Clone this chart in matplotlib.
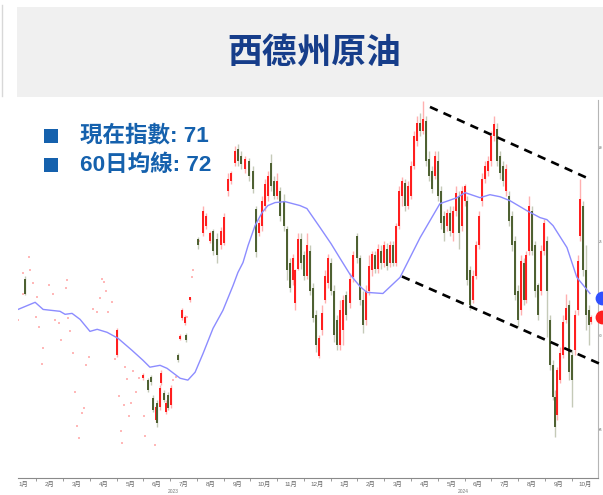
import numpy as np
import matplotlib.pyplot as plt
from matplotlib.patches import Rectangle
from matplotlib.lines import Line2D
from matplotlib.transforms import blended_transform_factory

plt.rcParams['font.family'] = ['Liberation Sans', 'Noto Sans CJK TC', 'DejaVu Sans']

# t = months since 2023-01 (0 = start of Jan 2023)
t = [0.57, 4.01, 4.98, 5.17, 5.28, 5.36, 5.47, 5.51, 5.62, 5.66,
     5.77, 5.84, 5.92, 6.03, 6.29, 6.36, 6.44, 6.55, 6.59, 6.74,
     7.04, 7.23, 7.34, 7.49, 7.60, 7.75, 7.90, 8.01, 8.16, 8.27,
     8.42, 8.53, 8.65, 8.80, 8.94, 9.09, 9.21, 9.32, 9.43, 9.54,
     9.65, 9.77, 9.88, 9.99, 10.10, 10.25, 10.36, 10.48, 10.59, 10.66,
     10.78, 10.89, 11.00, 11.11, 11.22, 11.34, 11.45, 11.56, 11.67, 11.79,
     11.90, 12.01, 12.12, 12.23, 12.35, 12.46, 12.57, 12.72, 12.83, 12.98,
     13.09, 13.20, 13.32, 13.43, 13.54, 13.65, 13.76, 13.88, 13.99, 14.10,
     14.22, 14.33, 14.44, 14.55, 14.66, 14.77, 14.89, 15.00, 15.11, 15.22,
     15.33, 15.45, 15.56, 15.67, 15.78, 15.90, 16.01, 16.12, 16.23, 16.34,
     16.46, 16.57, 16.68, 16.79, 16.90, 17.02, 17.09, 17.20, 17.32, 17.43,
     17.54, 17.65, 17.76, 17.88, 17.99, 18.10, 18.21, 18.33, 18.44, 18.55,
     18.66, 18.77, 18.89, 19.00, 19.11, 19.22, 19.30, 19.41, 19.52, 19.63,
     19.75, 19.86, 19.97, 20.08, 20.20, 20.31, 20.38, 20.46, 20.57, 20.68,
     20.79, 20.90, 21.02, 21.13, 21.24, 21.31, 21.42, 21.53, 21.65, 21.72]

opn = [73.03, 68.94, 67.71, 67.61, 67.77, 66.65, 65.48, 66.38, 66.17, 67.45,
       66.91, 65.90, 66.81, 66.28, 68.94, 69.79, 70.90, 70.64, 70.00, 71.86,
       75.16, 75.48, 75.85, 75.05, 75.59, 75.16, 74.79, 74.95, 77.71, 78.25,
       79.20, 79.95, 79.57, 78.88, 79.31, 78.78, 76.76, 75.48, 75.85, 76.92,
       77.45, 79.20, 78.25, 77.45, 77.71, 77.18, 75.69, 73.88, 72.93, 71.70,
       73.56, 75.16, 74.26, 73.19, 74.52, 72.50, 71.06, 68.88, 70.27, 71.86,
       72.77, 73.88, 72.39, 70.80, 69.47, 70.27, 72.13, 71.70, 73.09, 75.32,
       74.10, 71.86, 70.80, 72.39, 73.46, 74.26, 73.56, 74.52, 73.88, 74.63,
       73.88, 74.79, 73.88, 75.85, 77.45, 78.14, 76.92, 77.45, 79.04, 80.37,
       81.33, 80.90, 81.44, 79.41, 78.78, 78.51, 79.31, 77.71, 76.38, 75.85,
       76.54, 75.48, 76.65, 77.45, 75.85, 77.18, 77.18, 73.46, 71.86, 73.19,
       74.79, 77.18, 78.35, 78.78, 79.31, 80.64, 81.01, 79.57, 79.04, 77.71,
       77.45, 76.38, 75.05, 72.39, 71.33, 73.88, 71.86, 74.52, 76.65, 74.79,
       72.66, 72.39, 74.52, 75.05, 70.80, 68.41, 66.70, 65.75, 67.61, 68.94,
       70.80, 71.60, 68.94, 69.20, 71.33, 75.32, 76.92, 73.46, 71.33, 70.69]

high = [73.19, 70.37, 67.98, 67.71, 67.87, 66.81, 66.28, 66.54, 67.34, 68.14,
        67.08, 66.54, 66.97, 67.34, 69.04, 70.05, 71.44, 71.06, 70.11, 72.07,
        75.27, 76.92, 76.54, 75.59, 75.69, 75.48, 75.80, 76.54, 78.67, 78.78,
        80.11, 80.21, 79.84, 79.57, 79.47, 79.04, 76.92, 76.22, 77.45, 78.35,
        78.78, 79.68, 78.51, 78.67, 77.93, 77.55, 75.85, 74.10, 74.36, 73.56,
        75.43, 75.48, 74.52, 75.48, 74.79, 72.77, 71.33, 70.00, 71.60, 73.46,
        74.36, 74.10, 72.66, 71.06, 71.86, 72.13, 72.39, 73.30, 74.52, 75.48,
        74.26, 72.39, 72.66, 74.26, 74.52, 74.52, 74.89, 74.79, 75.05, 74.95,
        75.05, 75.05, 76.01, 77.98, 78.46, 78.35, 78.25, 79.31, 80.90, 81.70,
        81.86, 82.50, 81.70, 79.84, 79.04, 79.84, 79.84, 77.98, 76.65, 76.76,
        76.92, 76.92, 77.98, 77.71, 77.98, 78.09, 77.45, 73.72, 73.46, 75.05,
        76.65, 78.67, 79.31, 79.57, 80.90, 81.70, 81.33, 79.84, 79.31, 79.15,
        77.71, 76.65, 75.32, 72.66, 74.26, 74.10, 74.52, 77.45, 76.92, 75.05,
        72.77, 74.79, 76.22, 75.32, 71.06, 68.67, 67.08, 68.30, 69.36, 71.06,
        72.23, 71.86, 69.20, 71.33, 74.26, 78.35, 77.18, 74.79, 71.60, 71.06]

low = [72.13, 68.83, 67.61, 66.97, 67.34, 65.90, 65.37, 65.11, 66.01, 67.34,
       66.43, 65.80, 66.01, 66.12, 68.56, 69.73, 70.80, 70.53, 69.63, 71.76,
       74.63, 75.32, 75.69, 74.95, 74.31, 73.88, 74.63, 74.84, 77.45, 78.09,
       79.04, 79.04, 78.88, 78.67, 78.25, 77.61, 74.20, 75.32, 75.59, 76.65,
       77.18, 77.71, 77.29, 77.29, 76.12, 75.59, 72.93, 72.29, 72.66, 71.33,
       73.46, 73.56, 72.93, 73.03, 72.13, 70.69, 69.10, 68.78, 70.00, 71.70,
       72.55, 72.13, 69.63, 69.20, 69.20, 69.47, 70.80, 71.44, 72.82, 73.88,
       71.60, 70.11, 70.53, 72.13, 73.19, 73.35, 73.35, 73.56, 73.67, 73.46,
       73.67, 73.72, 73.72, 75.69, 76.92, 76.65, 76.76, 77.29, 78.88, 80.11,
       80.64, 80.75, 79.04, 78.25, 77.61, 78.35, 77.18, 75.69, 75.05, 75.59,
       75.32, 75.05, 76.38, 74.63, 75.59, 76.92, 72.66, 71.33, 71.70, 73.03,
       74.63, 76.92, 78.14, 78.51, 79.04, 80.37, 79.04, 78.35, 77.98, 77.45,
       75.85, 74.52, 71.86, 70.43, 71.06, 71.60, 71.70, 74.26, 74.26, 72.02,
       70.80, 72.13, 74.26, 69.89, 68.14, 66.54, 64.58, 65.48, 67.45, 68.78,
       70.64, 67.61, 66.17, 68.94, 71.06, 75.05, 73.19, 70.27, 69.47, 70.59]

close = [72.23, 70.27, 67.87, 67.08, 67.50, 66.01, 66.17, 65.32, 67.18, 67.98,
         66.54, 66.38, 66.12, 67.18, 68.67, 69.95, 71.33, 70.96, 69.73, 72.02,
         74.79, 76.65, 76.38, 75.48, 74.52, 74.26, 75.59, 76.33, 78.35, 78.67,
         79.84, 79.31, 79.15, 79.41, 78.51, 77.82, 74.42, 76.01, 77.18, 78.09,
         78.51, 77.98, 77.45, 78.25, 76.38, 75.85, 73.46, 72.50, 74.10, 73.46,
         75.16, 73.88, 73.19, 74.79, 72.39, 70.90, 69.47, 69.84, 71.17, 73.19,
         74.10, 72.39, 70.00, 69.47, 71.33, 71.86, 71.06, 73.03, 74.26, 74.10,
         71.86, 70.53, 72.39, 73.72, 74.36, 73.56, 74.63, 73.88, 74.79, 73.72,
         74.79, 73.88, 75.85, 77.71, 78.25, 76.92, 77.98, 79.04, 80.64, 81.33,
         80.90, 81.54, 79.31, 78.51, 77.82, 79.57, 77.45, 76.01, 75.48, 76.54,
         75.59, 76.65, 77.61, 75.48, 77.71, 77.98, 72.93, 71.60, 73.19, 74.79,
         76.38, 78.35, 79.04, 79.31, 80.64, 81.28, 79.31, 78.67, 78.25, 78.88,
         76.12, 74.79, 72.13, 70.80, 73.99, 71.86, 74.26, 76.92, 74.52, 72.39,
         71.06, 74.52, 76.01, 72.39, 68.41, 66.70, 65.11, 68.14, 69.04, 70.69,
         71.44, 68.03, 67.61, 71.06, 73.99, 77.29, 73.46, 71.06, 70.53, 70.96]

# faint prints in the thin early part of the chart
faint_t = [0.31, 0.50, 0.50, 0.72, 0.76, 0.87, 1.02, 0.99, 1.10, 1.21,
           1.25, 1.47, 1.62, 1.70, 1.84, 1.92, 2.11, 2.14, 2.18, 2.26,
           2.37, 2.44, 2.52, 2.59, 2.70, 2.78, 2.85, 2.97, 3.11, 3.26,
           3.38, 3.45, 3.53, 3.60, 3.68, 3.82, 3.94, 4.09, 4.16, 4.20,
           4.27, 4.31, 4.39, 4.46, 4.54, 4.61, 4.72, 4.83, 5.02, 5.06,
           5.43, 6.10, 6.22, 6.63, 6.81, 6.85, 7.08]
faint_p = [70.80, 72.23, 73.30, 74.20, 73.46, 72.77, 72.02, 70.96, 70.43, 68.46,
           69.31, 72.66, 72.23, 70.80, 70.64, 69.73, 72.50, 72.93, 70.90, 70.21,
           69.04, 66.97, 65.16, 64.52, 65.85, 66.12, 68.41, 68.83, 71.38, 71.22,
           71.97, 73.03, 72.82, 72.39, 71.22, 71.76, 68.72, 66.76, 64.89, 64.26,
           66.28, 68.30, 67.66, 65.69, 66.38, 68.09, 66.97, 67.71, 65.69, 64.63,
           64.15, 67.61, 67.77, 70.96, 73.09, 73.46, 75.05]

# 60-day moving average
ma_t = [0.31, 0.95, 1.25, 1.88, 2.07, 2.33, 2.63, 3.00, 3.27, 3.64,
        4.05, 4.57, 4.98, 5.24, 5.62, 5.88, 6.37, 6.66, 6.93, 7.23,
        7.60, 7.97, 8.35, 8.53, 8.72, 8.91, 9.17, 9.43, 9.65, 9.92,
        10.29, 10.85, 11.11, 11.60, 12.01, 12.35, 12.72, 13.09, 13.35, 13.95,
        14.59, 15.34, 16.08, 16.72, 17.02, 17.58, 17.95, 18.33, 18.70, 19.33,
        19.82, 20.08, 20.31, 20.83, 21.20, 21.69]
ma_p = [71.38, 71.76, 71.38, 71.28, 71.12, 71.17, 70.85, 70.21, 70.32, 70.16,
        69.84, 69.20, 68.67, 68.30, 68.40, 68.24, 67.71, 67.61, 68.03, 69.04,
        70.37, 71.33, 72.66, 73.35, 73.88, 74.79, 75.85, 76.54, 76.92, 77.08,
        77.13, 76.92, 76.76, 75.75, 74.89, 74.10, 73.25, 72.61, 72.29, 72.23,
        73.09, 75.21, 77.02, 77.34, 77.61, 77.34, 77.50, 77.39, 77.18, 76.65,
        76.28, 76.17, 75.85, 74.68, 73.09, 72.23]

# downward channel (start, end)
upper_t = [15.71, 21.65]
upper_p = [82.18, 78.35]
lower_t = [14.66, 22.17]
lower_p = [73.14, 68.41]

now_idx = 71
ma60 = 72

months = ['1月', '2月', '3月', '4月', '5月', '6月', '7月', '8月', '9月', '10月', '11月', '12月',
          '1月', '2月', '3月', '4月', '5月', '6月', '7月', '8月', '9月', '10月']
years = ['2023', '2024']
year_t = [6.10, 16.94]
y_ticks = [65, 70, 75, 80]

W, H = 603, 495
fig = plt.figure(figsize=(W / 100, H / 100), dpi=100)

# 標題區塊
fig.patches.append(Rectangle((17 / W, 1 - 97 / H), 586 / W, 90 / H, transform=fig.transFigure,
                             facecolor='#f0f0f0', edgecolor='none', zorder=0))
fig.lines.append(Line2D([1.5 / W, 1.5 / W], [1 - 5 / H, 1 - 96 / H], transform=fig.transFigure,
                        color='#d8d8d8', lw=1))
fig.text(314 / W, 1 - 52 / H, '西德州原油', ha='center', va='center', fontsize=25,
         fontweight='bold', color='#163d8a', family=['Noto Sans CJK TC'])

# 圖例文字
for yy, txt in [(136, f'現在指數: {now_idx}'), (165, f'60日均線: {ma60}')]:
    fig.patches.append(Rectangle((44 / W, 1 - (yy + 7) / H), 14 / W, 14 / H, transform=fig.transFigure,
                                 facecolor='#1561ad', edgecolor='none'))
    fig.text(80 / W, 1 - yy / H, txt, ha='left', va='center', fontsize=16.2,
             fontweight='bold', color='#1561ad')

ax = fig.add_axes([18 / W, 17 / H, 580 / W, 378 / H])

t = np.array(t)
opn = np.array(opn)
close = np.array(close)
up = close >= opn
col = np.where(up, '#ff1a1a', '#4b5e2e')
halo = np.where(up, '#ffb0b0', '#c5cab8')

ax.scatter(faint_t, faint_p, s=1.5, marker='s', color='#ffb8b8', linewidths=0, zorder=1)
ax.vlines(t, low, high, colors=halo, lw=1.0, zorder=2)
ax.vlines(t, np.minimum(opn, close), np.maximum(opn, close), colors=col, lw=1.4, zorder=3)

ax.plot(ma_t, ma_p, color='#8c8cff', lw=1.0, zorder=4)

ax.plot(upper_t, upper_p, color='black', lw=1.9, dashes=(3.2, 2.4), zorder=5, clip_on=False)
ax.plot(lower_t, lower_p, color='black', lw=1.9, dashes=(3.2, 2.4), zorder=5, clip_on=False)

tr = blended_transform_factory(ax.transAxes, ax.transData)
ax.scatter([1.007], [ma60], s=80, color='#3050ff', transform=tr, clip_on=False, zorder=6)
ax.scatter([1.007], [now_idx], s=80, color='#ff2020', transform=tr, clip_on=False, zorder=6)

ax.set_xlim(0.31, 21.99)
ax.set_ylim(62.39, 82.55)

for s in ['left', 'top']:
    ax.spines[s].set_visible(False)
ax.spines['right'].set_color('#b5b5b5')
ax.spines['bottom'].set_color('#8a8a8a')
ax.spines['right'].set_linewidth(0.8)
ax.spines['bottom'].set_linewidth(0.8)

ax.yaxis.tick_right()
ax.set_yticks(y_ticks)
ax.set_yticklabels([str(v) for v in y_ticks])
ax.tick_params(axis='y', labelsize=2.3, length=0.6, pad=0.1, colors='#666666')

ax.set_xticks(np.arange(1, 22))
ax.set_xticklabels([])
ax.set_xticks(np.arange(len(months)) + 0.5, minor=True)
ax.set_xticklabels(months, minor=True)
ax.tick_params(axis='x', which='major', length=2.5, width=0.6, colors='#8a8a8a')
ax.tick_params(axis='x', which='minor', length=0, labelsize=4.5, pad=2, labelcolor='#666666')

xtr = blended_transform_factory(ax.transData, ax.transAxes)
for yt, ylab in zip(year_t, years):
    ax.text(yt, -0.037, ylab, transform=xtr, ha='center', va='center', fontsize=3.5, color='#777777')

fig.savefig('out.png', dpi=100)
